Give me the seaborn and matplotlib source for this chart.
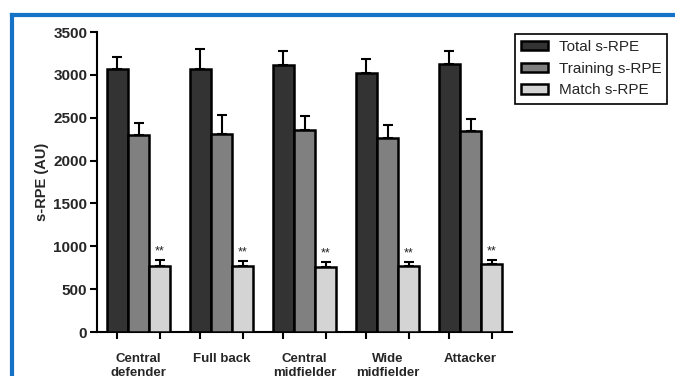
import numpy as np
import pandas as pd
import matplotlib
matplotlib.use('Agg')
import matplotlib.pyplot as plt
import matplotlib.patches as mpatches
from matplotlib.lines import Line2D
import seaborn as sns

# Data
positions = ['Central\ndefender', 'Full back', 'Central\nmidfielder', 'Wide\nmidfielder', 'Attacker']
series = ['Total s-RPE', 'Training s-RPE', 'Match s-RPE']
total_mean = [3070, 3070, 3110, 3025, 3125]
total_sd = [140, 235, 170, 155, 150]
training_mean = [2300, 2310, 2355, 2260, 2345]
training_sd = [140, 220, 160, 150, 140]
match_mean = [775, 770, 760, 770, 790]
match_sd = [60, 60, 55, 50, 45]
colors = ['#333333', '#808080', '#d4d4d4']

df = pd.DataFrame({
    'position': positions * 3,
    'series': [s for s in series for _ in positions],
    'value': total_mean + training_mean + match_mean,
    'sd': total_sd + training_sd + match_sd,
})

sns.set_style('ticks')
plt.rcParams['font.family'] = ['Liberation Sans', 'DejaVu Sans']

fig = plt.figure(figsize=(6.75, 3.76), dpi=100)
ax = fig.add_axes([97 / 675, 44 / 376, 415 / 675, 300 / 376])

sns.barplot(data=df, x='position', y='value', hue='series', order=positions,
            hue_order=series, palette=colors, width=0.76, gap=0,
            edgecolor='black', linewidth=1.8, errorbar=None, legend=False,
            ax=ax, zorder=3)

# error bars (upper only) and significance marks
bar_centers = []
for patch, (_, row) in zip(ax.patches, df.iterrows()):
    xc = patch.get_x() + patch.get_width() / 2
    bar_centers.append(xc)
    ax.errorbar(xc, row['value'], yerr=[[0], [row['sd']]], fmt='none',
                ecolor='black', elinewidth=1.5, capsize=3.6, capthick=1.5,
                zorder=2)
    if row['series'] == 'Match s-RPE':
        ax.text(xc, row['value'] + row['sd'] + 30, '**', ha='center', va='bottom',
                fontsize=9, color='#222222')

ax.set_ylim(0, 3500)
ax.set_xlim(-0.5, 4.5)
ax.set_yticks(np.arange(0, 3501, 500))
ax.set_xticks(range(len(positions)))
ax.set_xticklabels(positions, fontsize=9.5, fontweight='bold')
ax.set_xticks(bar_centers, minor=True)
ax.tick_params(axis='x', which='major', length=0, pad=15)
ax.tick_params(axis='x', which='minor', length=5, width=1.5, color='black')
ax.tick_params(axis='y', length=5, width=1.5, labelsize=11, color='black', pad=2)
for lbl in ax.get_yticklabels():
    lbl.set_fontweight('bold')
ax.set_xlabel('')
ax.set_ylabel('s-RPE (AU)', fontsize=10.5, fontweight='bold', labelpad=3)
sns.despine(ax=ax)
for side in ['left', 'bottom']:
    ax.spines[side].set_linewidth(1.5)
    ax.spines[side].set_color('black')

handles = [mpatches.Patch(facecolor=c, edgecolor='black', linewidth=1.8, label=s)
           for c, s in zip(colors, series)]
leg = fig.legend(handles=handles, loc='upper left', bbox_to_anchor=(515 / 675, 1 - 34 / 376),
                 bbox_transform=fig.transFigure, borderaxespad=0, fancybox=False,
                 edgecolor='black', framealpha=1, fontsize=11, handlelength=1.75,
                 handleheight=0.55, handletextpad=0.7, labelspacing=0.5, borderpad=0.4)
leg.get_frame().set_linewidth(1.2)

# blue frame around the figure panel
fig.add_artist(Line2D([12 / 675, 12 / 675], [0, 1 - 15 / 376], transform=fig.transFigure,
                      color='#1572c6', linewidth=3, solid_capstyle='projecting'))
fig.add_artist(Line2D([12 / 675, 1], [1 - 15 / 376, 1 - 15 / 376], transform=fig.transFigure,
                      color='#1572c6', linewidth=3, solid_capstyle='projecting'))

fig.savefig('out.png', dpi=100)
